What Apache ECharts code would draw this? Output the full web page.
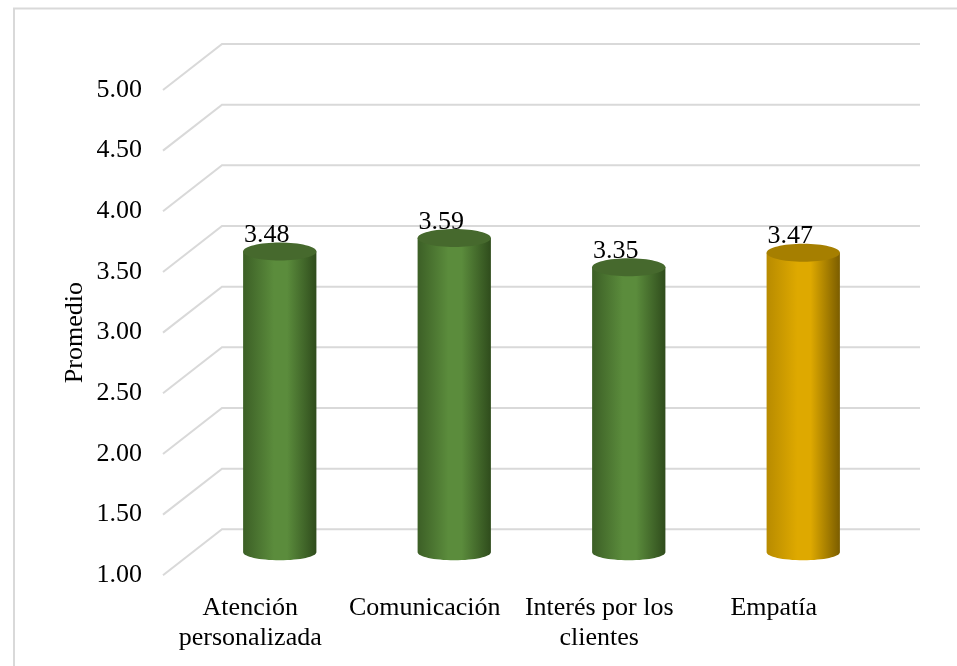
<!DOCTYPE html>
<html>
<head>
<meta charset="utf-8">
<style>
  html, body { margin: 0; padding: 0; background: #ffffff; }
  #chart { width: 957px; height: 666px; }
</style>
<script src="https://cdn.jsdelivr.net/npm/echarts@6/dist/echarts.min.js"></script>
</head>
<body>
<div id="chart"></div>
<script>
// Average score per dimension
const categories = ['Atención\npersonalizada', 'Comunicación', 'Interés por los\nclientes', 'Empatía'];
const promedios = [3.48, 3.59, 3.35, 3.47];
const gridValues = [1.0, 1.5, 2.0, 2.5, 3.0, 3.5, 4.0, 4.5, 5.0];

// Cylinder palettes: [left edge, highlight, right edge, top cap]
const greenShade = ['#3c5f26', '#5b8c3c', '#2f4c1c', '#46692d'];
const goldShade = ['#b88b00', '#dea900', '#7b5d00', '#a67f00'];
const barShades = [greenShade, greenShade, greenShade, goldShade];

const FONT = '"Liberation Serif", "Times New Roman", serif';
// half-depth of the perspective floor (bars stand in the middle plane)
const DX = 29.5, DY = 23;

const chart = echarts.init(document.getElementById('chart'));

function renderGridLine(params, api) {
  const cs = params.coordSys;
  const y = api.coord([0, api.value(1)])[1];
  return {
    type: 'polyline',
    silent: true,
    shape: {
      points: [
        [cs.x - DX, y + DY],
        [cs.x + DX, y - DY],
        [cs.x + cs.width + DX, y - DY]
      ]
    },
    style: { fill: null, stroke: '#d9d9d9', lineWidth: 2 }
  };
}

function renderCylinder(params, api) {
  const i = api.value(0);
  const v = api.value(1);
  const top = api.coord([i, v]);
  const base = api.coord([i, 1]);
  const w = api.size([1, 0])[0] * 0.42;
  const rx = w / 2;
  const ryTop = 9, ryBot = 8;
  const k = 0.5523; // bezier circle constant
  const shade = barShades[i];
  const bodyFill = new echarts.graphic.LinearGradient(0, 0, 1, 0, [
    { offset: 0, color: shade[0] },
    { offset: 0.42, color: shade[1] },
    { offset: 0.6, color: shade[1] },
    { offset: 1, color: shade[2] }
  ]);
  const cx = top[0];
  const l = cx - rx, r = cx + rx, yt = top[1], yb = base[1];
  // side wall with a rounded bottom
  const bodyPath =
    'M' + l + ' ' + yt +
    ' L' + l + ' ' + yb +
    ' C' + l + ' ' + (yb + ryBot * k) + ' ' + (cx - rx * k) + ' ' + (yb + ryBot) + ' ' + cx + ' ' + (yb + ryBot) +
    ' C' + (cx + rx * k) + ' ' + (yb + ryBot) + ' ' + r + ' ' + (yb + ryBot * k) + ' ' + r + ' ' + yb +
    ' L' + r + ' ' + yt + ' Z';
  return {
    type: 'group',
    children: [
      {
        type: 'path',
        shape: { pathData: bodyPath },
        style: { fill: bodyFill }
      },
      {
        type: 'ellipse',
        shape: { cx: cx, cy: yt, rx: rx, ry: ryTop },
        style: { fill: shade[3] }
      },
      {
        type: 'text',
        x: cx - 13,
        y: yt - 3,
        style: {
          text: v.toFixed(2),
          align: 'center',
          verticalAlign: 'bottom',
          font: '26px ' + FONT,
          fill: '#000000'
        }
      }
    ]
  };
}

chart.setOption({
  animation: false,
  backgroundColor: '#ffffff',
  graphic: [
    {
      type: 'rect',
      silent: true,
      shape: { x: 14, y: 8.5, width: 1200, height: 1200 },
      style: { fill: null, stroke: '#d9d9d9', lineWidth: 2 }
    }
  ],
  grid: [
    { left: 192.5, right: 66.5, top: 67, bottom: 113.7 },
    { left: 163, right: 96, top: 90, bottom: 90.7 }
  ],
  xAxis: [
    { type: 'category', gridIndex: 0, data: categories, show: false },
    {
      type: 'category', gridIndex: 1, data: categories,
      axisLine: { show: false }, axisTick: { show: false },
      axisLabel: {
        interval: 0, margin: 18, color: '#000000',
        fontFamily: FONT, fontSize: 26, lineHeight: 30
      }
    }
  ],
  yAxis: [
    { type: 'value', gridIndex: 0, min: 1, max: 5, interval: 0.5, show: false },
    {
      type: 'value', gridIndex: 1, min: 1, max: 5, interval: 0.5,
      name: 'Promedio', nameLocation: 'middle', nameGap: 75, nameRotate: 90,
      nameMoveOverlap: false,
      nameTextStyle: { color: '#000000', fontFamily: FONT, fontSize: 26 },
      axisLine: { show: false }, axisTick: { show: false },
      splitLine: { show: false },
      axisLabel: {
        margin: 21, color: '#000000', fontFamily: FONT, fontSize: 26,
        formatter: function (val) { return val.toFixed(2); }
      }
    }
  ],
  series: [
    {
      type: 'custom',
      name: 'grid',
      xAxisIndex: 0, yAxisIndex: 0,
      silent: true,
      z: 1,
      renderItem: renderGridLine,
      encode: { x: 0, y: 1 },
      data: gridValues.map(function (v) { return [0, v]; })
    },
    {
      type: 'custom',
      name: 'Promedio',
      xAxisIndex: 0, yAxisIndex: 0,
      z: 2,
      renderItem: renderCylinder,
      encode: { x: 0, y: 1 },
      data: promedios.map(function (v, i) { return [i, v]; })
    }
  ]
});
</script>
</body>
</html>
